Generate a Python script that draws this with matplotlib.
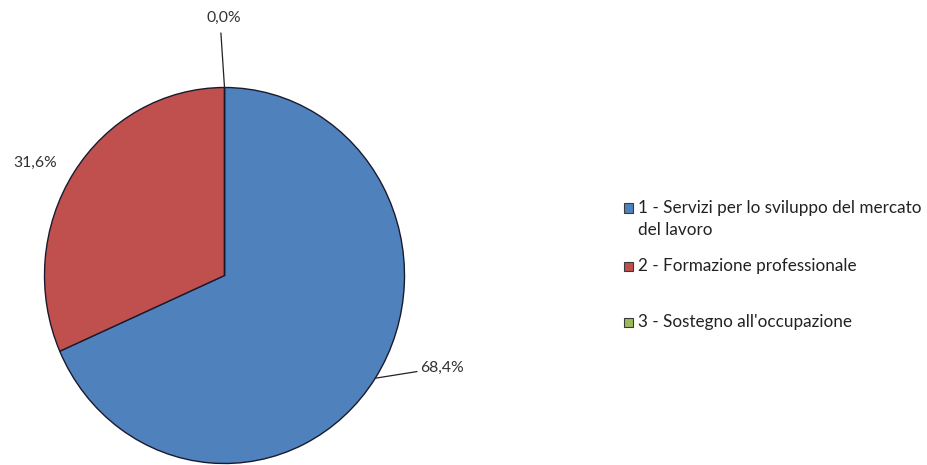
import matplotlib
matplotlib.use("Agg")
import matplotlib.pyplot as plt
from matplotlib.patches import Rectangle
import numpy as np

categories = [
    "1 - Servizi per lo sviluppo del mercato\ndel lavoro",
    "2 - Formazione professionale",
    "3 - Sostegno all'occupazione",
]
values = [68.4, 31.6, 0.0]
value_labels = ["68,4%", "31,6%", "0,0%"]
colors = ["#4F81BD", "#C0504D", "#9BBB59"]

plt.rcParams["font.family"] = ["Lato", "DejaVu Sans"]

W, H = 928, 465
fig = plt.figure(figsize=(W / 100, H / 100), dpi=100)

# pie axes: slightly taller than wide
cx, cy, rx, ry = 224.5, 275.5, 180, 188
ax = fig.add_axes([(cx - rx) / W, (H - cy - ry) / H, 2 * rx / W, 2 * ry / H])
wedges, _ = ax.pie(values, colors=colors, startangle=90, counterclock=False,
                   radius=1, wedgeprops=dict(edgecolor="#1a1a2e", linewidth=1.0))
ax.set_aspect("auto")
ax.set_xlim(-1, 1)
ax.set_ylim(-1, 1)
ax.axis("off")

# data labels with leader lines
txt_kw = dict(fontsize=11.3, color="#333333", annotation_clip=False)
line_kw = dict(arrowstyle="-", color="#222222", lw=0.9, shrinkA=0, shrinkB=0)

def edge_point(w):
    ang = np.deg2rad((w.theta1 + w.theta2) / 2)
    return np.cos(ang), np.sin(ang)

# 68,4%
p = edge_point(wedges[0])
ax.annotate(value_labels[0], xy=p, xytext=(1.085, -0.49), ha="left", va="center",
            arrowprops=line_kw, **txt_kw)
# 31,6%
ax.annotate(value_labels[1], xy=(-1.053, 0.598), ha="center", va="center", **txt_kw)
# 0,0%
p = edge_point(wedges[2])
ax.annotate("", xy=p, xytext=(-0.02, 1.29), arrowprops=line_kw, annotation_clip=False)
ax.annotate(value_labels[2], xy=(-0.003, 1.37), ha="center", va="center", **txt_kw)

# legend
rows_y = [208, 266, 322]
line_step = 22
for lab, col, y in zip(categories, colors, rows_y):
    fig.patches.append(Rectangle((624 / W, (H - y - 4.5) / H), 9 / W, 9 / H,
                                 transform=fig.transFigure, facecolor=col,
                                 edgecolor="#3a3a3a", linewidth=0.8))
    for i, part in enumerate(lab.split("\n")):
        fig.text(638 / W, (H - y - i * line_step) / H, part, fontsize=12.3,
                 color="#222222", ha="left", va="center")

fig.savefig("out.png", dpi=100, facecolor="white")
